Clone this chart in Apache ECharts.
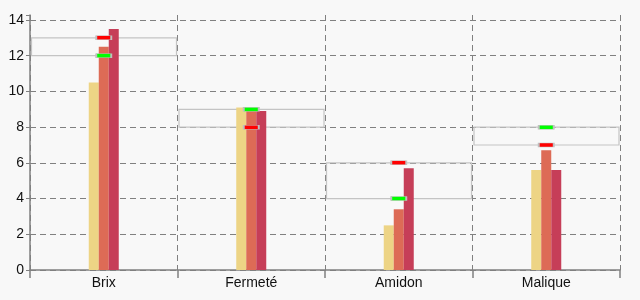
<!DOCTYPE html>
<html><head><meta charset="utf-8">
<script src="https://cdn.jsdelivr.net/npm/echarts@6/dist/echarts.min.js"></script>
<style>html,body{margin:0;padding:0;background:#f8f8f8}#c{width:640px;height:300px}</style>
</head><body><div id="c"></div>
<script>
const categories = ['Brix', 'Fermeté', 'Amidon', 'Malique'];
const series1 = [10.5, 9.1, 2.5, 5.6];
const series2 = [12.5, 9.0, 3.4, 6.7];
const series3 = [13.5, 8.9, 5.7, 5.6];
const rangeLow = [12, 8, 4, 7];
const rangeHigh = [13, 9, 6, 8];
const redMarker = [13, 8, 6, 7];
const greenMarker = [12, 9, 4, 8];
const yTicks = [0, 2, 4, 6, 8, 10, 12, 14];

const chart = echarts.init(document.getElementById('c'));
const font = 'Liberation Sans';
const boxData = categories.map((c, i) => [i, rangeLow[i], rangeHigh[i]]);
chart.setOption({
  backgroundColor: '#f8f8f8',
  animation: false,
  grid: {left: 30, right: 20, top: 15, bottom: 30},
  xAxis: {
    type: 'category', data: categories,
    axisLine: {lineStyle: {color: '#808080', width: 1.5}},
    axisTick: {show: true, length: 8, lineStyle: {color: '#808080', width: 1.5}},
    axisLabel: {color: '#111', fontFamily: font, fontSize: 14, margin: 6},
    splitLine: {show: true, lineStyle: {color: '#808080', type: [6, 4], width: 1}}
  },
  yAxis: {
    type: 'value', min: 0, max: 14.28, interval: 2,
    axisLine: {show: true, lineStyle: {color: '#808080', width: 1.5}},
    axisTick: {show: true, length: 4, lineStyle: {color: '#808080'}},
    axisLabel: {color: '#111', fontFamily: font, fontSize: 14, margin: 6,
      formatter: v => yTicks.includes(v) ? String(v) : ''},
    splitLine: {show: true, showMaxLine: false, lineStyle: {color: '#808080', type: [6, 4], width: 1}}
  },
  series: [
    {type: 'custom', z: 1, data: boxData,
      renderItem: function (params, api) {
        const top = api.coord([api.value(0), api.value(2)]);
        const bot = api.coord([api.value(0), api.value(1)]);
        const bw = api.size([1, 0])[0];
        return {type: 'rect', shape: {x: top[0] - bw / 2 + 1.5, y: top[1], width: bw - 2.5, height: bot[1] - top[1]},
          style: {fill: 'none', stroke: '#c4c4c4', lineWidth: 1.2}};
      }},
    {type: 'bar', z: 2, data: series1, barWidth: 10, barGap: 0, itemStyle: {color: '#edd485'}},
    {type: 'bar', z: 2, data: series2, barWidth: 10, barGap: 0, itemStyle: {color: '#dd6b56'}},
    {type: 'bar', z: 2, data: series3, barWidth: 10, barGap: 0, itemStyle: {color: '#c63e58'}},
    {type: 'scatter', z: 5, data: redMarker, symbol: 'rect', symbolSize: [15, 4],
      itemStyle: {color: '#ff0000', borderColor: '#c0c0c0', borderWidth: 1, opacity: 1}},
    {type: 'scatter', z: 5, data: greenMarker, symbol: 'rect', symbolSize: [15, 4],
      itemStyle: {color: '#00ff00', borderColor: '#c0c0c0', borderWidth: 1, opacity: 1}}
  ]
});
</script></body></html>
